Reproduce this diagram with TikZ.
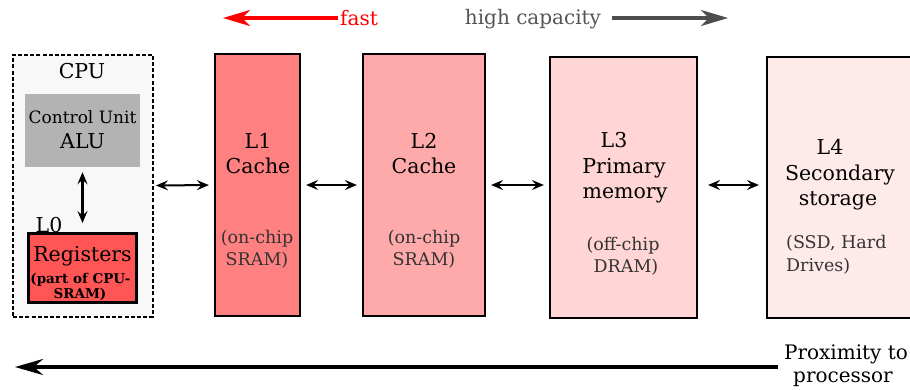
\documentclass[tikz,border=0pt]{standalone}
\usepackage{fontspec}
\setmainfont{DejaVu Serif}
\usetikzlibrary{arrows.meta}
\definecolor{cpufill}{HTML}{F8F8F8}
\definecolor{cugray}{HTML}{B3B3B3}
\definecolor{regred}{HTML}{FF5555}
\definecolor{cone}{HTML}{FF8080}
\definecolor{ctwo}{HTML}{FFAAAA}
\definecolor{cthree}{HTML}{FFD5D5}
\definecolor{cfour}{HTML}{FFEAEA}
\definecolor{subgray}{HTML}{333333}
\definecolor{capgray}{HTML}{555555}
\definecolor{caparrow}{HTML}{4D4D4D}
\begin{document}
\begin{tikzpicture}[x=1pt,y=-1pt,
  mytip/.tip={Stealth[length=12pt,width=10pt,inset=4.5pt]},
  box/.style={draw=black,line width=2.2pt,inner sep=0pt},
  dbl/.style={mytip-mytip,line width=2pt,shorten <=2pt,shorten >=5pt},
  big/.style={font=\fontsize{20.5}{26}\selectfont,inner sep=0pt,anchor=base},
  sub/.style={font=\fontsize{17.5}{23}\selectfont,text=subgray,inner sep=0pt,anchor=base},
  bigtip/.style={-{Stealth[length=27pt,width=16pt,inset=8pt]},line width=3.2pt}]
\useasboundingbox (0,0) rectangle (910,389);
% CPU
\node[box,line width=2pt,dash pattern=on 4pt off 2.2pt,fill=cpufill,minimum width=140pt,minimum height=262pt] (cpu) at (83,185.5) {};
\node[big] (cputxt) at (82,78) {CPU};
\node[fill=cugray,minimum width=115pt,minimum height=73pt,inner sep=0pt] (cu) at (82.5,130.5) {};
\node[font=\fontsize{17}{20}\selectfont,inner sep=0pt,anchor=base] (cutxt) at (82.5,123) {Control Unit};
\node[big] (alu) at (82.5,148) {ALU};
\node[big] (l0) at (49,232) {L0};
\node[draw=black,line width=3pt,fill=regred,minimum width=108pt,minimum height=69pt,inner sep=0pt] (reg) at (82.5,268) {};
\node[big] (regtxt) at (82.5,261) {Registers};
\node[font=\fontsize{13.5}{15}\selectfont\bfseries,inner sep=0pt,anchor=base] (regsub1) at (80.5,283) {(part of CPU-};
\node[font=\fontsize{13.5}{15}\selectfont\bfseries,inner sep=0pt,anchor=base] (regsub2) at (80,298) {SRAM)};
\draw[mytip-mytip,line width=2.2pt,shorten <=5pt,shorten >=9pt] (cu.south) -- (reg.north);
% L1
\node[box,fill=cone,minimum width=85pt,minimum height=262pt] (l1) at (257.5,185) {};
\node[big] (l1a) at (258,148) {L1};
\node[big] (l1b) at (258,173) {Cache};
\node[sub] (l1c) at (257,243) {(on-chip};
\node[sub] (l1d) at (257,265) {SRAM)};
% L2
\node[box,fill=ctwo,minimum width=122pt,minimum height=262pt] (l2) at (424,185) {};
\node[big] (l2a) at (424,148) {L2};
\node[big] (l2b) at (424,173) {Cache};
\node[sub] (l2c) at (424,243) {(on-chip};
\node[sub] (l2d) at (424,265) {SRAM)};
% L3
\node[box,fill=cthree,minimum width=147pt,minimum height=261pt] (l3) at (623.5,187.5) {};
\node[big] (l3a) at (614,147) {L3};
\node[big] (l3b) at (624,173) {Primary};
\node[big] (l3c) at (625,198) {memory};
\node[sub] (l3d) at (623,250) {(off-chip};
\node[sub] (l3e) at (626,272) {DRAM)};
% L4
\node[box,fill=cfour,minimum width=150pt,minimum height=261pt] (l4) at (842,187.5) {};
\node[big] (l4a) at (830,154) {L4};
\node[big] (l4b) at (840,180) {Secondary};
\node[big] (l4c) at (838,205) {storage};
\node[sub,anchor=base west] (l4d) at (786,248) {(SSD, Hard};
\node[sub,anchor=base west] (l4e) at (786,271) {Drives)};
% connectors
\draw[dbl] (cpu.east) -- (l1.west);
\draw[dbl,shorten <=5pt] (l1.east) -- (l2.west);
\draw[dbl,shorten <=5pt] (l2.east) -- (l3.west |- l2.east);
\draw[dbl,shorten <=10pt,shorten >=7pt] (l3.east |- l2.east) -- (l4.west |- l2.east);
% top
\node[font=\fontsize{20}{24}\selectfont,text=red,inner sep=0pt,anchor=base west] (fast) at (340,25) {fast};
\coordinate (fastend) at (223,18);
\draw[bigtip,red] (fast.west |- fastend) ++(-2,0) -- (fastend);
\node[font=\fontsize{20}{24}\selectfont,text=capgray,inner sep=0pt,anchor=base] (cap) at (533,24) {high capacity};
\coordinate (capend) at (728,18);
\draw[bigtip,caparrow] (cap.east |- capend) ++(11,0) -- (capend);
% bottom
\node[font=\fontsize{20}{24}\selectfont,inner sep=0pt,anchor=base] (prox1) at (846,359) {Proximity to};
\node[font=\fontsize{20}{24}\selectfont,inner sep=0pt,anchor=base] (prox2) at (843,382) {processor};
\coordinate (proxend) at (15,367);
\draw[bigtip,line width=3.4pt,-{Stealth[length=28pt,width=16pt,inset=9pt]}] (prox1.south west |- proxend) ++(-6,0) -- (proxend);
\end{tikzpicture}
\end{document}
